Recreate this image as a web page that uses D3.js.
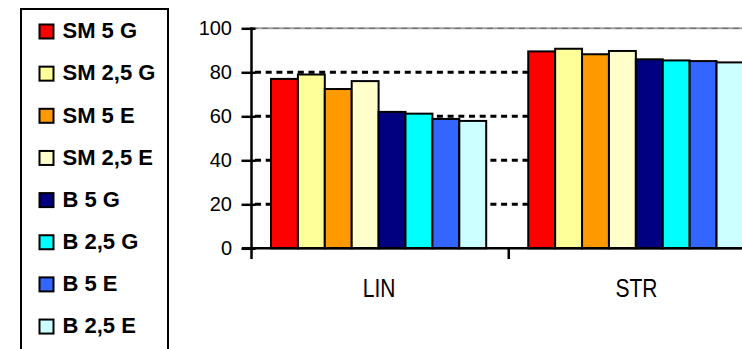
<!DOCTYPE html>
<html>
<head>
<meta charset="utf-8">
<script src="https://cdn.jsdelivr.net/npm/d3@7"></script>
<style>
  html, body { margin: 0; padding: 0; background: #fff; overflow: hidden; }
  svg { display: block; }
  text { font-family: "Liberation Sans", Arial, sans-serif; }
</style>
</head>
<body>
<svg id="chart" width="742" height="349"></svg>
<script>
// Categories, series and values
const categories = ["LIN", "STR"];
const seriesNames = ["SM 5 G", "SM 2,5 G", "SM 5 E", "SM 2,5 E", "B 5 G", "B 2,5 G", "B 5 E", "B 2,5 E"];
const seriesColors = ["#FF0000", "#FFFF99", "#FF9900", "#FFFFCC", "#000080", "#00FFFF", "#3366FF", "#CCFFFF"];
const linValues = [77, 79, 72.4, 76, 62, 61.2, 58.8, 57.9];
const strValues = [89.5, 90.7, 88.2, 89.7, 85.9, 85.4, 85.1, 84.5];
const yTicks = [0, 20, 40, 60, 80, 100];

const valuesByCategory = { LIN: linValues, STR: strValues };

const svg = d3.select("#chart");

const x0 = d3.scaleBand().domain(categories).range([251.5, 766]).paddingInner(0).paddingOuter(0);
const x1 = d3.scaleBand().domain(seriesNames).range([19.5, 19.5 + 8 * 26.9]).padding(0);
const y = d3.scaleLinear().domain([0, 100]).range([248.3, 28.3]);

const plotRight = 742;

// Gridlines: top line grey, the rest black dashed
svg.append("line")
  .attr("x1", 251.5).attr("x2", plotRight)
  .attr("y1", y(100)).attr("y2", y(100))
  .attr("stroke", "#a0a0a0").attr("stroke-width", 2);
svg.append("line")
  .attr("x1", 251.5).attr("x2", plotRight)
  .attr("y1", y(100)).attr("y2", y(100))
  .attr("stroke", "#707070").attr("stroke-width", 1.2)
  .attr("stroke-dasharray", "6 4.7");

svg.append("g").selectAll("line")
  .data(yTicks.filter(d => d > 0 && d < 100))
  .join("line")
  .attr("x1", 253).attr("x2", plotRight)
  .attr("y1", d => y(d)).attr("y2", d => y(d))
  .attr("stroke", "#000").attr("stroke-width", 3)
  .attr("stroke-dasharray", "6 4.7")
  .attr("stroke-dashoffset", -2);

// Bars
const groups = svg.append("g").selectAll("g")
  .data(categories)
  .join("g")
  .attr("transform", d => `translate(${x0(d)},0)`);

groups.selectAll("rect")
  .data(c => seriesNames.map((s, i) => ({ s, i, v: valuesByCategory[c][i] })))
  .join("rect")
  .attr("x", d => x1(d.s))
  .attr("width", x1.bandwidth())
  .attr("y", d => y(d.v))
  .attr("height", d => y(0) - y(d.v))
  .attr("fill", d => seriesColors[d.i])
  .attr("stroke", "#000")
  .attr("stroke-width", 2);

// Y axis
const yAxis = d3.axisLeft(y).tickValues(yTicks).tickSizeInner(10).tickSizeOuter(0).tickPadding(10);
const gy = svg.append("g").attr("transform", "translate(251.5,0)").call(yAxis);
gy.select(".domain").remove();
gy.selectAll(".tick line").attr("stroke", "#000").attr("stroke-width", 2.5).attr("x2", 4).attr("x1", -10);
gy.selectAll(".tick text")
  .attr("font-size", 20).attr("fill", "#000")
  .attr("font-family", "Liberation Sans, Arial, sans-serif")
  .attr("x", -19.5);
svg.append("line")
  .attr("x1", 251.5).attr("x2", 251.5)
  .attr("y1", y(100) - 1).attr("y2", 259)
  .attr("stroke", "#000").attr("stroke-width", 2.5);

// X axis
const xAxis = d3.axisBottom(x0).tickSize(0).tickFormat("");
const gx = svg.append("g").attr("transform", `translate(0,${y(0)})`).call(xAxis);
gx.select(".domain").remove();
svg.append("line")
  .attr("x1", 242).attr("x2", plotRight)
  .attr("y1", y(0)).attr("y2", y(0))
  .attr("stroke", "#000").attr("stroke-width", 2.5);

// Category boundary ticks
svg.append("g").selectAll("line")
  .data(categories.slice(1))
  .join("line")
  .attr("x1", d => x0(d)).attr("x2", d => x0(d))
  .attr("y1", y(0)).attr("y2", 259)
  .attr("stroke", "#000").attr("stroke-width", 2.5);

// Category labels
svg.append("g").selectAll("text")
  .data(categories)
  .join("text")
  .attr("transform", d => `translate(${x0(d) + x0.bandwidth() / 2 - 1},296.7) scale(1,1.25)`)
  .attr("text-anchor", "middle")
  .attr("font-size", 21)
  .attr("fill", "#000")
  .text(d => d);

// Legend
const legend = svg.append("g");
legend.append("rect")
  .attr("x", 21).attr("y", 9)
  .attr("width", 147).attr("height", 360)
  .attr("fill", "#fff")
  .attr("stroke", "#000").attr("stroke-width", 2);

const items = legend.selectAll("g.item")
  .data(seriesNames)
  .join("g")
  .attr("class", "item")
  .attr("transform", (d, i) => `translate(0,${32 + i * 42.15})`);

items.append("rect")
  .attr("x", 39.5).attr("y", -7.5)
  .attr("width", 14).attr("height", 14)
  .attr("fill", (d, i) => seriesColors[i])
  .attr("stroke", "#000").attr("stroke-width", 2);

items.append("text")
  .attr("x", 62.5).attr("y", 6.3)
  .attr("font-size", 22)
  .attr("font-weight", "bold")
  .attr("fill", "#000")
  .text(d => d);
</script>
</body>
</html>
